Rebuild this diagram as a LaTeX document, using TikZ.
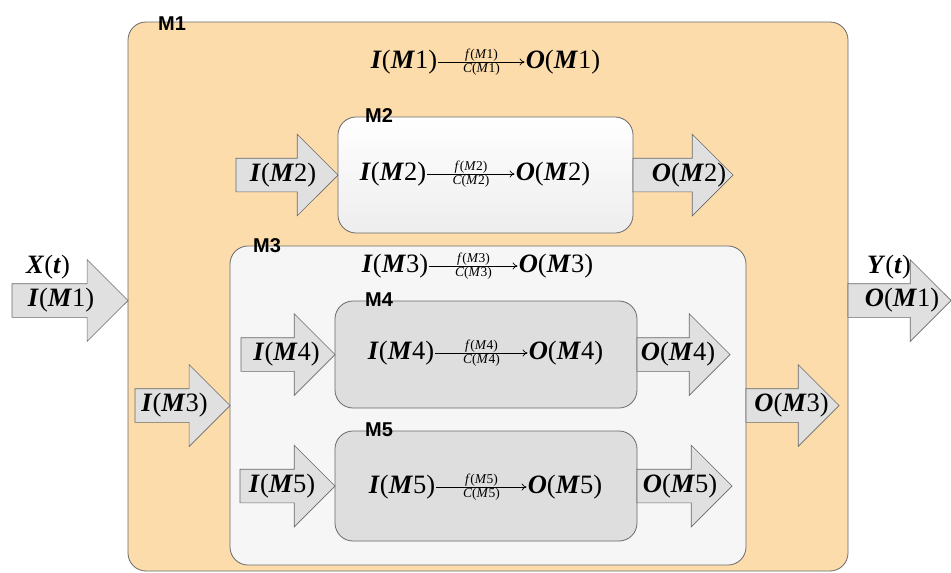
\documentclass[tikz,border=0pt]{standalone}
\usepackage{fontspec}
\setmainfont{Liberation Serif}
\setsansfont{Liberation Sans}
\usepackage{tikz}
\usetikzlibrary{positioning, arrows.meta, shapes.arrows}

\definecolor{orangebg}{RGB}{253,220,171}
\definecolor{boxline}{RGB}{105,105,105}
\definecolor{lightbox}{RGB}{246,246,246}
\definecolor{darkbox}{RGB}{222,222,222}
\definecolor{arrowfill}{RGB}{224,224,224}

\newcommand{\modio}[2]{\textbf{\textit{#1}}(\textbf{\textit{M}}#2)}
\newcommand{\sublab}[2]{\textit{#1}(\textit{M}#2)}
% text in a block arrow, moved sideways by half of the first argument
\newcommand{\blktext}[2]{\makebox[0pt]{\hspace*{#1}#2}}

\begin{document}
\begin{tikzpicture}[
  x=1pt, y=-1pt,
  font=\fontsize{26.5}{29}\selectfont,
  mod/.style={draw=boxline, line width=0.8pt, rounded corners=18pt,
    outer sep=0pt, inner sep=0pt, anchor=north west},
  outer/.style={mod, fill=orangebg},
  upper/.style={mod, top color=white, bottom color=black!7},
  middle/.style={mod, fill=lightbox},
  inner/.style={mod, fill=darkbox},
  tag/.style={font=\sffamily\bfseries\fontsize{20}{22}\selectfont,
    anchor=base west, inner sep=0pt},
  form/.style={inner xsep=1pt, inner ysep=0pt, text height=18pt, text depth=6pt},
  blk/.style={single arrow, draw=boxline, fill=arrowfill, line width=0.7pt,
    single arrow head extend=24pt, inner xsep=0pt, inner ysep=4.5pt,
    text height=18pt, text depth=6pt, outer sep=0pt},
  flow/.style={-{To[length=5pt, width=7pt]}, line width=0.7pt},
  sub/.style={font=\fontsize{13.5}{14}\selectfont, inner sep=0.3pt},
]
  \useasboundingbox[fill=white] (0,0) rectangle (951,573);

  % Modules
  \node[outer, minimum width=720pt, minimum height=549pt] (M1) at (128,22) {};
  \node[upper, minimum width=295pt, minimum height=116pt] (M2) at (338,117) {};
  \node[middle, minimum width=516pt, minimum height=319pt] (M3) at (230,246) {};
  \node[inner, minimum width=302pt, minimum height=107pt] (M4) at (335,301) {};
  \node[inner, minimum width=302pt, minimum height=110pt] (M5) at (335,431) {};

  % Module names
  \node[tag] (tM1) at ([xshift=30pt, yshift=-8pt]M1.north west) {M1};
  \node[tag] (tM2) at ([xshift=27pt, yshift=-5pt]M2.north west) {M2};
  \node[tag] (tM3) at ([xshift=23pt, yshift=-6pt]M3.north west) {M3};
  \node[tag] (tM4) at ([xshift=30pt, yshift=-5pt]M4.north west) {M4};
  \node[tag] (tM5) at ([xshift=30pt, yshift=-5pt]M5.north west) {M5};

  % Transfer functions
  \node[form] (iM1) at (404,62) {\modio{I}{1}};
  \node[form] (oM1) at (563,62) {\modio{O}{1}};
  \node[form] (iM2) at (393,174) {\modio{I}{2}};
  \node[form] (oM2) at (553,174) {\modio{O}{2}};
  \node[form] (iM3) at (395,266) {\modio{I}{3}};
  \node[form] (oM3) at (556,266) {\modio{O}{3}};
  \node[form] (iM4) at (401,353) {\modio{I}{4}};
  \node[form] (oM4) at (566,353) {\modio{O}{4}};
  \node[form] (iM5) at (402,487) {\modio{I}{5}};
  \node[form] (oM5) at (565,487) {\modio{O}{5}};
  \foreach \k in {1,...,5}
    \draw[flow] (iM\k) -- node[sub, above]{\sublab{f}{\k}}
                          node[sub, below]{\sublab{C}{\k}} (oM\k);

  % Block arrows in and out
  \node[blk, anchor=tip, minimum height=116pt] (inM1) at ([yshift=-4pt]M1.west) {\blktext{-1pt}{\modio{I}{1}}};
  \node[blk, anchor=tail, minimum height=103pt] (outM1) at ([yshift=-4pt]M1.east) {\blktext{22pt}{\modio{O}{1}}};
  \node[blk, anchor=tip, minimum height=102pt] (inM2) at (M2.west) {\blktext{9pt}{\modio{I}{2}}};
  \node[blk, anchor=tail, minimum height=100pt] (outM2) at (M2.east) {\blktext{29pt}{\modio{O}{2}}};
  \node[blk, anchor=tip, minimum height=95pt] (inM3) at (M3.west) {\blktext{1pt}{\modio{I}{3}}};
  \node[blk, anchor=tail, minimum height=93pt] (outM3) at (M3.east) {\blktext{15pt}{\modio{O}{3}}};
  \node[blk, anchor=tip, minimum height=94pt] (inM4) at (M4.west) {\blktext{14pt}{\modio{I}{4}}};
  \node[blk, anchor=tail, minimum height=93pt] (outM4) at (M4.east) {\blktext{6pt}{\modio{O}{4}}};
  \node[blk, anchor=tip, minimum height=95pt] (inM5) at (M5.west) {\blktext{6pt}{\modio{I}{5}}};
  \node[blk, anchor=tail, minimum height=95pt] (outM5) at (M5.east) {\blktext{8pt}{\modio{O}{5}}};

  % System signals
  \node[form] (xt) at (48,267) {\textbf{\textit{X}}(\textbf{\textit{t}})};
  \node[form] (yt) at (889,267) {\textbf{\textit{Y}}(\textbf{\textit{t}})};
\end{tikzpicture}
\end{document}
